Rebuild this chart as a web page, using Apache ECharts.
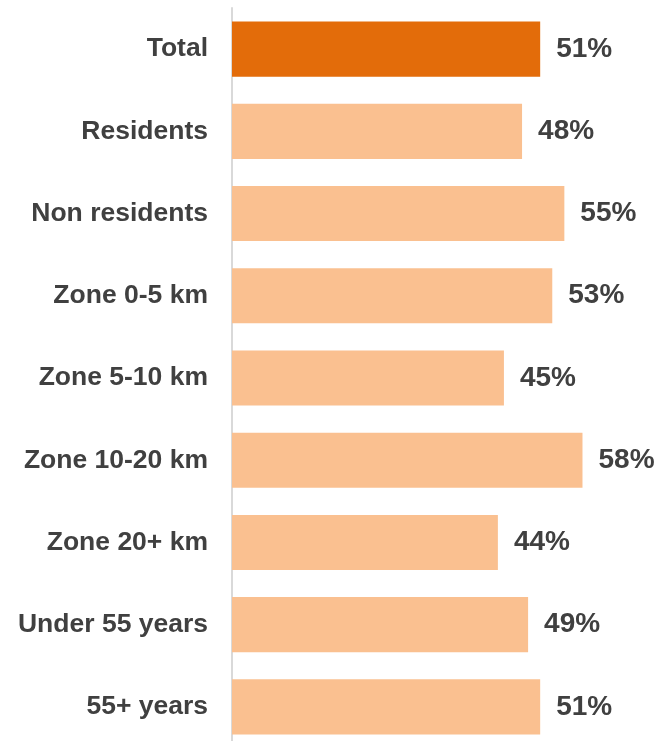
<!DOCTYPE html>
<html>
<head>
<meta charset="utf-8">
<script src="https://cdn.jsdelivr.net/npm/echarts@6/dist/echarts.min.js"></script>
<style>
  html, body { margin: 0; padding: 0; background: #fff; }
  #chart { width: 666px; height: 741px; }
</style>
</head>
<body>
<div id="chart"></div>
<script>
const categories = ['Total', 'Residents', 'Non residents', 'Zone 0-5 km', 'Zone 5-10 km',
  'Zone 10-20 km', 'Zone 20+ km', 'Under 55 years', '55+ years'];
const shares = [51, 48, 55, 53, 45, 58, 44, 49, 51];
const highlight = 'Total';

const chart = echarts.init(document.getElementById('chart'));

const barData = shares.map((v, i) => ({
  value: v,
  itemStyle: { color: categories[i] === highlight ? '#E36C0A' : '#FAC090' }
}));

const option = {
  animation: false,
  grid: { left: 232, top: 8, width: 423, height: 740, outerBoundsMode: 'none' },
  xAxis: {
    type: 'value',
    min: 0,
    max: 70,
    show: false
  },
  yAxis: {
    type: 'category',
    data: categories,
    inverse: true,
    axisLine: { show: true, lineStyle: { color: '#D9D9D9', width: 2 } },
    axisTick: { show: false },
    axisLabel: {
      margin: 24,
      padding: [4, 0, 0, 0],
      color: '#404040',
      fontSize: 26.5,
      fontWeight: 'bold',
      fontFamily: 'Liberation Sans, Arial, sans-serif'
    }
  },
  series: [{
    type: 'bar',
    data: barData,
    barCategoryGap: '33%',
    label: {
      show: true,
      position: 'right',
      distance: 16,
      padding: [5, 0, 0, 0],
      formatter: p => p.value + '%',
      color: '#404040',
      fontSize: 28,
      fontWeight: 'bold',
      fontFamily: 'Liberation Sans, Arial, sans-serif'
    }
  }]
};

chart.setOption(option);
</script>
</body>
</html>
